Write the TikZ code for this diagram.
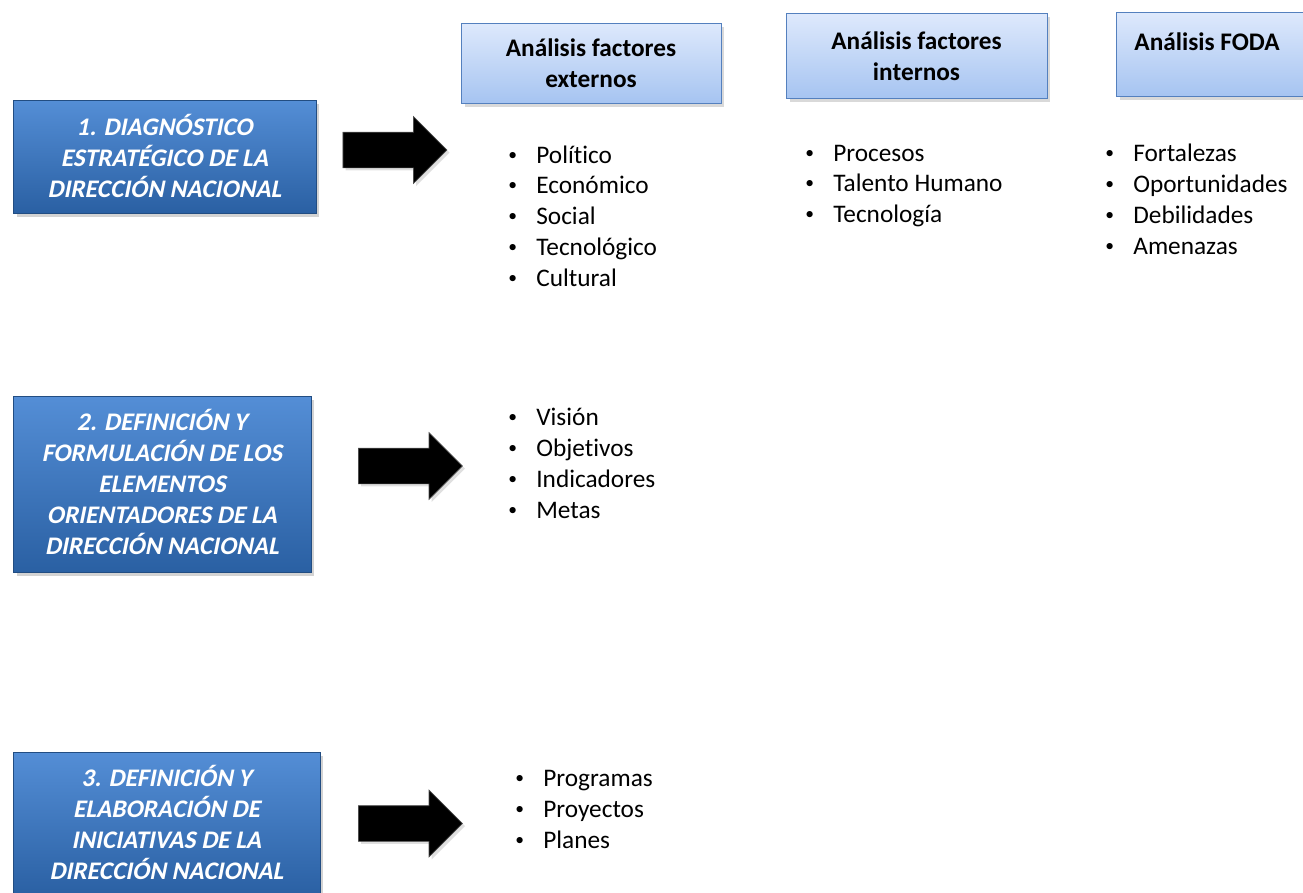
\documentclass[tikz,border=0pt]{standalone}
\usepackage{fontspec}
\setmainfont{Carlito}[Ligatures=NoCommon]
\usetikzlibrary{shapes.arrows,shadows,positioning}

\definecolor{etapaTop}{RGB}{84,142,214}
\definecolor{etapaBot}{RGB}{42,96,163}
\definecolor{analTop}{RGB}{222,233,252}
\definecolor{analBot}{RGB}{166,196,241}
\definecolor{analLine}{RGB}{84,128,190}

\newcommand{\bul}[1]{\makebox[0.56cm][l]{\raisebox{1.6pt}{\fontsize{10}{10}\selectfont •}}#1}

\begin{document}
\begin{tikzpicture}[
       x=0.02cm, y=-0.02cm,
       every node/.style={font=\fontsize{14.4}{17.6}\selectfont},
       etapa/.style={
         rectangle,
         draw=etapaBot!80!black,
         top color=etapaTop,
         bottom color=etapaBot,
         drop shadow={opacity=0.35, shadow xshift=2pt, shadow yshift=-2pt}
       },
       etapatexto/.style={
         anchor=base,
         inner sep=0pt,
         text=white,
         xslant=0.2,
         font=\fontsize{14.4}{17.6}\selectfont\bfseries
       },
       analisis/.style={
         rectangle,
         draw=analLine,
         top color=analTop,
         bottom color=analBot,
         align=center,
         font=\fontsize{14.4}{17.6}\selectfont\bfseries,
         drop shadow={opacity=0.3, shadow xshift=2pt, shadow yshift=-2pt}
       },
       flecha/.style={
         single arrow,
         fill=black,
         draw=black!70,
         inner xsep=0pt,
         inner ysep=0.35cm,
         minimum width=1.32cm,
         minimum height=2.08cm,
         single arrow head extend=0.31cm,
         single arrow head indent=0pt,
         drop shadow={opacity=0.25, shadow xshift=1.5pt, shadow yshift=-1.5pt}
       },
       item/.style={anchor=base west, inner sep=0pt}
     ]

       \useasboundingbox (0,0) rectangle (1303,893);

       % etapas
       \node (e1) at (164.5,156.5) [etapa, minimum width=6.06cm, minimum height=2.26cm]{};
       \foreach \lin [count=\i] in {1. DIAGNÓSTICO, ESTRATÉGICO DE LA, DIRECCIÓN NACIONAL}
         \node (e1l\i) at (164.5,104+31*\i) [etapatexto]{\lin};
       \node (e2) at (162,484) [etapa, minimum width=5.96cm, minimum height=3.52cm]{};
       \foreach \lin [count=\i] in {2. DEFINICIÓN Y, FORMULACIÓN DE LOS, ELEMENTOS,
           ORIENTADORES DE LA, DIRECCIÓN NACIONAL}
         \node (e2l\i) at (162,399+31*\i) [etapatexto]{\lin};
       \node (e3) at (166.5,824) [etapa, minimum width=6.14cm, minimum height=2.88cm]{};
       \foreach \lin [count=\i] in {3. DEFINICIÓN Y, ELABORACIÓN DE, INICIATIVAS DE LA,
           DIRECCIÓN NACIONAL}
         \node (e3l\i) at (166.5,755+31*\i) [etapatexto]{\lin};

       % flechas
       \node (f1) at (386,150) [flecha]{};
       \node (f2) at (401.5,466) [flecha]{};
       \node (f3) at (401.5,823.5) [flecha]{};

       % cajas de analisis
       \node (ext) at (591,63) [analisis, minimum width=5.2cm, minimum height=1.6cm]
         {Análisis factores\\externos};
       \node (int) at (916.5,56) [analisis, minimum width=5.22cm, minimum height=1.7cm]
         {Análisis factores\\internos};
       \node (foda) at (1211,54) [analisis, minimum width=3.8cm, minimum height=1.68cm]{};
       \node (fodatit) at (1207,42) [font=\fontsize{14.4}{17.6}\selectfont\bfseries]{Análisis FODA};

       % listas
       \foreach \txt [count=\i] in {Político, Económico, Social, Tecnológico, Cultural}
         \node (ext\i) at (508,132.2+30.8*\i) [item]{\bul{\txt}};
       \foreach \txt [count=\i] in {Procesos, Talento Humano, Tecnología}
         \node (int\i) at (805,130.5+30.5*\i) [item]{\bul{\txt}};
       \foreach \txt [count=\i] in {Fortalezas, Oportunidades, Debilidades, Amenazas}
         \node (foda\i) at (1105,130+31*\i) [item]{\bul{\txt}};
       \foreach \txt [count=\i] in {Visión, Objetivos, Indicadores, Metas}
         \node (elem\i) at (508,394+31*\i) [item]{\bul{\txt}};
       \foreach \txt [count=\i] in {Programas, Proyectos, Planes}
         \node (inic\i) at (515,755+31*\i) [item]{\bul{\txt}};

\end{tikzpicture}
\end{document}
